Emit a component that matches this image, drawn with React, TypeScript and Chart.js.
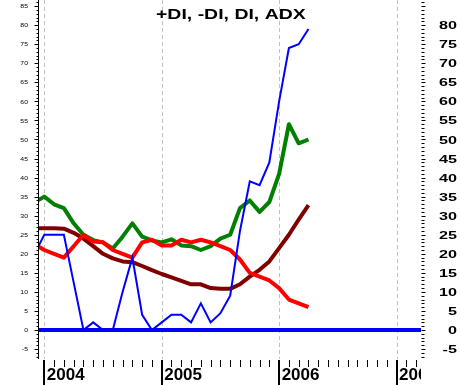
import React, { useEffect, useRef } from 'react';
import { Chart, registerables } from 'chart.js';

Chart.register(...registerables);

// ---- data (monthly) ----
const months = [
  '2003-12', '2004-01', '2004-02', '2004-03', '2004-04', '2004-05', '2004-06', '2004-07',
  '2004-08', '2004-09', '2004-10', '2004-11', '2004-12', '2005-01', '2005-02', '2005-03',
  '2005-04', '2005-05', '2005-06', '2005-07', '2005-08', '2005-09', '2005-10', '2005-11',
  '2005-12', '2006-01', '2006-02', '2006-03', '2006-04',
];
const plusDI = [
  33.5, 35, 33, 32, 28, 25, 23.6, 23, 21.4, 24.5, 28, 24.5, 23.5, 23, 23.8, 22.2,
  22, 21, 22, 24, 25, 32, 34, 31, 33.6, 41, 54, 49, 50,
];
const minusDI = [
  22.5, 21, 20, 19, 22, 25, 23.2, 23, 21, 20, 19, 23, 23.7, 22.2, 22.2, 23.7,
  23, 23.7, 23, 22, 21, 18.5, 15, 14, 13, 11, 8, 7, 6,
];
const diLine = [
  20, 25, 25, 25, 12.5, 0, 2, 0, 0, 10, 19, 4, 0, 2, 4, 4,
  2, 7, 2, 4.4, 9, 26, 39, 38, 44, 60, 74, 75, 79,
];
const adxLine = [
  26.7, 26.7, 26.7, 26.6, 25.5, 24, 22, 20, 18.8, 18, 17.8, 16.8, 15.7, 14.7, 13.8, 12.9,
  12, 12, 11, 10.8, 10.8, 12, 14, 15.8, 18, 21.5, 25, 29, 32.8,
];
const zeroLevel = [0, 0];
const yearLabels = ['2004', '2005', '2006', '2007'];
const leftTickLabels = [-5, 0, 5, 10, 15, 20, 25, 30, 35, 40, 45, 50, 55, 60, 65, 70, 75, 80, 85];
const rightTickLabels = [-5, 0, 5, 10, 15, 20, 25, 30, 35, 40, 45, 50, 55, 60, 65, 70, 75, 80];
const chartTitle = '+DI, -DI, DI, ADX';

const X_MIN = -0.542;
const X_MAX = 38.5;
const Y_MIN = -7.61;
const Y_MAX = 86.61;

const FONT = '"Liberation Sans", Arial, Helvetica, sans-serif';

function monthIndex(m: string) {
  const [y, mo] = m.split('-').map(Number);
  return (y - 2004) * 12 + (mo - 1);
}
function yearIndex(y: string) {
  return (Number(y) - 2004) * 12;
}
const toPoints = (vals: number[]) => vals.map((v, i) => ({ x: monthIndex(months[i]), y: v }));

const decorPlugin = {
  id: 'decor',
  beforeDatasetsDraw(chart: any) {
    const { ctx, chartArea: a, scales } = chart;
    const x = scales.x;
    ctx.save();
    ctx.strokeStyle = '#c0c0c0';
    ctx.lineWidth = 1;
    ctx.setLineDash([4, 3]);
    yearLabels.forEach((lab) => {
      const px = Math.round(x.getPixelForValue(yearIndex(lab))) + 0.5;
      ctx.beginPath();
      ctx.moveTo(px, a.top);
      ctx.lineTo(px, a.bottom);
      ctx.stroke();
    });
    ctx.restore();
  },
  afterDraw(chart: any) {
    const { ctx, chartArea: a, scales } = chart;
    const x = scales.x;
    const y = scales.y;
    ctx.save();
    ctx.setLineDash([]);
    ctx.strokeStyle = '#000';
    ctx.fillStyle = '#000';

    // left axis line
    ctx.lineWidth = 1;
    ctx.beginPath();
    ctx.moveTo(a.left - 0.5, a.top);
    ctx.lineTo(a.left - 0.5, a.bottom);
    ctx.stroke();

    // y tick marks (every unit) on both sides
    for (let v = Math.ceil(Y_MIN); v <= Math.floor(Y_MAX); v++) {
      const py = Math.round(y.getPixelForValue(v)) + 0.5;
      const major = v % 5 === 0;
      ctx.beginPath();
      ctx.moveTo(a.left - (major ? 4.5 : 2.5), py);
      ctx.lineTo(a.left - 0.5, py);
      ctx.moveTo(a.right + 0.5, py);
      ctx.lineTo(a.right + (major ? 4.5 : 3.5), py);
      ctx.stroke();
    }

    // left labels
    ctx.font = `6px ${FONT}`;
    ctx.textAlign = 'right';
    ctx.textBaseline = 'middle';
    leftTickLabels.forEach((v) => {
      const py = y.getPixelForValue(v);
      ctx.save();
      ctx.translate(28, py + 0.5);
      ctx.scale(1.15, 1);
      ctx.fillText(String(v), 0, 0);
      ctx.restore();
    });

    // right labels
    ctx.font = `bold 11px ${FONT}`;
    ctx.textAlign = 'right';
    ctx.textBaseline = 'middle';
    rightTickLabels.forEach((v) => {
      const py = y.getPixelForValue(v);
      ctx.save();
      ctx.translate(457, py + 1);
      ctx.scale(1.47, 1);
      ctx.fillText(String(v), 0, 0);
      ctx.restore();
    });

    // x tick marks (monthly) and year markers
    for (let k = Math.ceil(X_MIN); k <= Math.floor(X_MAX); k++) {
      const pxr = Math.round(x.getPixelForValue(k));
      if (k % 12 === 0) {
        ctx.lineWidth = 2;
        ctx.beginPath();
        ctx.moveTo(pxr, a.bottom + 1);
        ctx.lineTo(pxr, 385);
        ctx.stroke();
      } else {
        ctx.lineWidth = 1;
        ctx.beginPath();
        ctx.moveTo(pxr + 0.5, a.bottom + 1);
        ctx.lineTo(pxr + 0.5, a.bottom + 8);
        ctx.stroke();
      }
    }

    // year labels (clipped at the plot's right edge)
    ctx.save();
    ctx.beginPath();
    ctx.rect(0, a.bottom, a.right, 385 - a.bottom);
    ctx.clip();
    ctx.font = `bold 17px ${FONT}`;
    ctx.textAlign = 'left';
    ctx.textBaseline = 'alphabetic';
    yearLabels.forEach((lab) => {
      const px = x.getPixelForValue(yearIndex(lab));
      ctx.fillText(lab, px + 2.5, 380);
    });
    ctx.restore();

    // title
    ctx.font = `bold 14px ${FONT}`;
    ctx.textAlign = 'left';
    ctx.textBaseline = 'alphabetic';
    ctx.save();
    ctx.translate(156, 18.5);
    ctx.scale(1.39, 1);
    ctx.fillText(chartTitle, 0, 0);
    ctx.restore();

    ctx.restore();
  },
};

export default function App() {
  const canvasRef = useRef<HTMLCanvasElement | null>(null);

  useEffect(() => {
    const canvas = canvasRef.current;
    if (!canvas) return;
    const chart = new Chart(canvas, {
      type: 'line',
      data: {
        datasets: [
          {
            label: 'zero',
            data: [
              { x: X_MIN, y: zeroLevel[0] },
              { x: X_MAX, y: zeroLevel[1] },
            ],
            borderColor: '#0000ff',
            borderWidth: 4,
            pointRadius: 0,
            order: 5,
          },
          {
            label: 'ADX',
            data: toPoints(adxLine),
            borderColor: '#800000',
            borderWidth: 4,
            pointRadius: 0,
            borderJoinStyle: 'round',
            order: 4,
          },
          {
            label: '+DI',
            data: toPoints(plusDI),
            borderColor: '#008000',
            borderWidth: 4,
            pointRadius: 0,
            borderJoinStyle: 'round',
            order: 3,
          },
          {
            label: '-DI',
            data: toPoints(minusDI),
            borderColor: '#ff0000',
            borderWidth: 4,
            pointRadius: 0,
            borderJoinStyle: 'round',
            order: 2,
          },
          {
            label: 'DI',
            data: toPoints(diLine),
            borderColor: '#0000ff',
            borderWidth: 2,
            pointRadius: 0,
            order: 1,
          },
        ],
      },
      options: {
        animation: false,
        responsive: false,
        devicePixelRatio: 1,
        events: [],
        layout: { padding: { left: 39, right: 39, top: 0, bottom: 26 } },
        elements: { line: { tension: 0 } },
        plugins: {
          legend: { display: false },
          tooltip: { enabled: false },
          title: { display: false },
        },
        scales: {
          x: { type: 'linear', min: X_MIN, max: X_MAX, display: false },
          y: { type: 'linear', min: Y_MIN, max: Y_MAX, display: false },
        },
      },
      plugins: [decorPlugin],
    } as any);
    return () => chart.destroy();
  }, []);

  return (
    <div style={{ position: 'absolute', left: 0, top: 0, width: 460, height: 385, background: '#fff' }}>
      <canvas ref={canvasRef} width={460} height={385} style={{ display: 'block' }} />
    </div>
  );
}
